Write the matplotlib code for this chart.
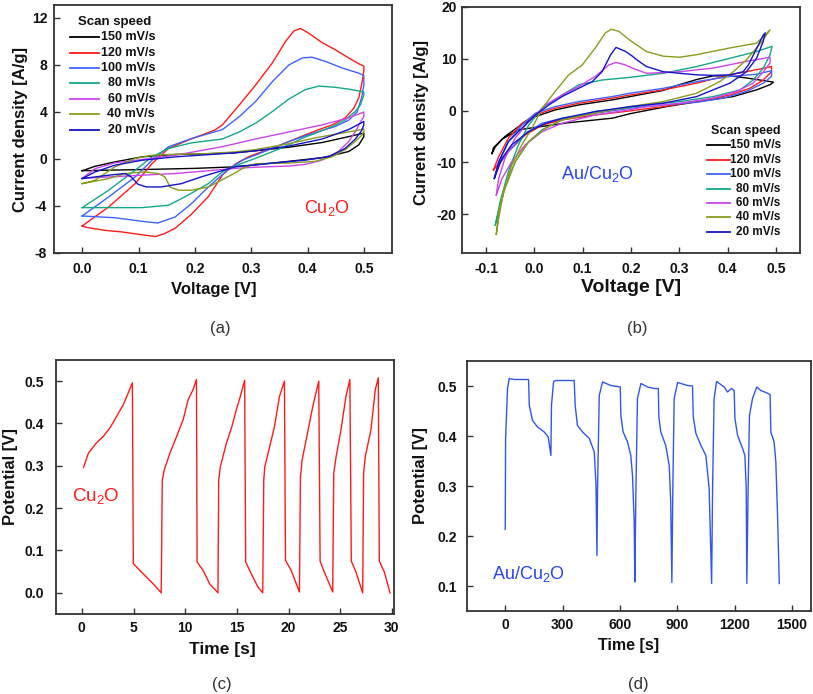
import matplotlib
matplotlib.use('Agg')
import matplotlib.pyplot as plt

plt.rcParams['font.family'] = ['Liberation Sans', 'DejaVu Sans']
plt.rcParams['axes.unicode_minus'] = False
plt.rcParams['mathtext.fontset'] = 'custom'
plt.rcParams['mathtext.rm'] = 'Liberation Sans'
plt.rcParams['mathtext.it'] = 'Liberation Sans:italic'
plt.rcParams['mathtext.bf'] = 'Liberation Sans:bold'

# ---------------- data ----------------
scan_labels = ['150 mV/s', '120 mV/s', '100 mV/s', '80 mV/s', '60 mV/s', '40 mV/s', '20 mV/s']
scan_colors = ['#000000', '#ff1a1a', '#3f62ff', '#14a88a', '#cc44ee', '#8a9c1c', '#1414cc']

# (a) Cu2O cyclic voltammetry
a_v_150 = [0, 0.023, 0.058, 0.106, 0.165, 0.265, 0.308, 0.367, 0.426, 0.473, 0.5, 0.5, 0.491, 0.473, 0.426, 0.367, 0.308, 0.265, 0.2, 0.106, 0.05, 0]
a_i_150 = [-1.0, -0.62, -0.25, 0.18, 0.38, 0.5, 0.7, 1.0, 1.4, 1.9, 2.2, 1.9, 1.2, 0.63, 0.11, -0.2, -0.5, -0.68, -0.8, -0.9, -0.95, -1.0]
a_v_120 = [0, 0.047, 0.094, 0.124, 0.153, 0.188, 0.235, 0.249, 0.279, 0.308, 0.338, 0.361, 0.376, 0.388, 0.402, 0.426, 0.449, 0.473, 0.491, 0.5,
           0.5, 0.496, 0.491, 0.482, 0.467, 0.444, 0.42, 0.396, 0.367, 0.338, 0.32, 0.296, 0.273, 0.25, 0.224, 0.194, 0.165, 0.146, 0.13, 0.105,
           0.069, 0.04, 0.011, 0]
a_i_120 = [-5.7, -4.08, -2.1, -0.39, 0.89, 1.6, 2.45, 2.9, 4.6, 6.3, 8.2, 10.0, 10.9, 11.1, 10.7, 9.9, 9.3, 8.6, 8.1, 7.9,
           7.5, 6.3, 5.2, 4.3, 3.5, 2.9, 2.5, 2.05, 1.48, 0.91, 0.63, 0.2, -0.4, -1.3, -3.2, -4.7, -5.9, -6.35, -6.6, -6.44,
           -6.2, -6.07, -5.85, -5.7]
a_v_100 = [0, 0.047, 0.094, 0.124, 0.153, 0.194, 0.249, 0.279, 0.308, 0.338, 0.367, 0.391, 0.408, 0.432, 0.461, 0.491, 0.5, 0.5, 0.496, 0.488,
           0.473, 0.449, 0.42, 0.391, 0.367, 0.338, 0.308, 0.285, 0.259, 0.224, 0.194, 0.165, 0.134, 0.106, 0.058, 0]
a_i_100 = [-4.85, -3.23, -1.53, -0.11, 1.03, 1.74, 2.5, 3.6, 4.9, 6.6, 8.0, 8.6, 8.66, 8.3, 7.75, 7.3, 7.1, 6.3, 5.2, 4.0,
           3.3, 2.76, 2.34, 1.9, 1.48, 0.91, 0.34, -0.09, -0.9, -2.38, -3.8, -4.94, -5.45, -5.3, -5.0, -4.85]
a_v_80 = [0, 0.047, 0.094, 0.124, 0.153, 0.194, 0.249, 0.279, 0.308, 0.338, 0.367, 0.396, 0.42, 0.449, 0.479, 0.5, 0.5, 0.494, 0.485, 0.467,
          0.444, 0.414, 0.391, 0.367, 0.338, 0.308, 0.279, 0.249, 0.224, 0.182, 0.153, 0.106, 0.047, 0]
a_i_80 = [-4.14, -2.66, -0.96, 0.18, 0.89, 1.37, 1.7, 2.3, 3.05, 4.05, 5.1, 5.9, 6.2, 6.1, 5.9, 5.7, 5.47, 4.6, 4.05, 3.33,
          2.76, 2.19, 1.77, 1.2, 0.63, 0.06, -0.45, -1.08, -2.1, -3.23, -3.94, -4.14, -4.14, -4.14]
a_v_60 = [0, 0.023, 0.058, 0.106, 0.165, 0.249, 0.308, 0.367, 0.426, 0.473, 0.5, 0.5, 0.496, 0.485, 0.473, 0.455, 0.426, 0.396, 0.367, 0.308,
          0.271, 0.224, 0.165, 0.106, 0.047, 0]
a_i_60 = [-1.65, -0.82, -0.33, -0.05, 0.32, 1.05, 1.7, 2.3, 2.9, 3.5, 3.99, 3.6, 3.3, 2.34, 1.48, 0.63, -0.09, -0.46, -0.6, -0.7,
          -0.8, -1.0, -1.24, -1.38, -1.53, -1.65]
a_v_40 = [0, 0.023, 0.058, 0.094, 0.124, 0.165, 0.224, 0.271, 0.308, 0.367, 0.414, 0.455, 0.485, 0.5, 0.5, 0.496, 0.485, 0.467, 0.444, 0.414,
          0.367, 0.308, 0.285, 0.271, 0.247, 0.224, 0.194, 0.171, 0.156, 0.147, 0.135, 0.111, 0.076, 0.047, 0]
a_i_40 = [-2.1, -1.81, -0.67, 0.04, 0.32, 0.4, 0.46, 0.6, 0.8, 1.3, 1.8, 2.15, 2.4, 2.56, 2.3, 2.0, 1.5, 0.8, 0.2, -0.2,
          -0.35, -0.4, -0.8, -1.2, -1.81, -2.38, -2.66, -2.66, -2.38, -1.53, -1.24, -1.1, -1.24, -1.67, -2.1]
a_v_20 = [0, 0.023, 0.058, 0.106, 0.165, 0.271, 0.308, 0.367, 0.426, 0.473, 0.5, 0.5, 0.496, 0.485, 0.467, 0.438, 0.396, 0.338, 0.271, 0.241,
          0.211, 0.176, 0.14, 0.114, 0.099, 0.087, 0.076, 0.047, 0]
a_i_20 = [-1.67, -1.1, -0.53, -0.11, 0.18, 0.52, 0.7, 1.1, 1.7, 2.5, 3.19, 2.9, 2.4, 1.7, 0.9, 0.2, -0.1, -0.35, -0.67, -1.1,
          -1.53, -2.1, -2.38, -2.38, -2.15, -1.53, -1.24, -1.38, -1.67]

# (b) Au/Cu2O cyclic voltammetry
b_v_150 = [-0.088, -0.081, -0.061, -0.033, 0.002, 0.043, 0.092, 0.161, 0.198, 0.267, 0.3, 0.336, 0.37, 0.405, 0.439, 0.474, 0.495, 0.488, 0.46, 0.411,
           0.336, 0.273, 0.198, 0.162, 0.065, -0.032, -0.067, -0.085, -0.088]
b_i_150 = [-8.3, -7.0, -5.0, -3.1, -1.16, 0.13, 1.1, 2.06, 2.7, 3.9, 5.0, 6.0, 6.7, 6.7, 6.3, 5.8, 5.5, 5.0, 4.0, 2.7,
           1.7, 0.76, -0.6, -1.46, -2.4, -3.7, -5.5, -7.2, -8.3]
b_v_120 = [-0.085, -0.074, -0.054, -0.026, 0.002, 0.043, 0.092, 0.161, 0.198, 0.267, 0.336, 0.405, 0.46, 0.491, 0.491, 0.474, 0.446, 0.405, 0.336, 0.267,
           0.198, 0.126, 0.057, 0.016, -0.019, -0.054, -0.074, -0.085]
b_i_120 = [-11.5, -8.9, -5.35, -2.45, -0.84, 0.45, 1.42, 2.4, 3.0, 4.0, 5.3, 6.9, 7.9, 8.5, 7.5, 5.9, 4.3, 3.0, 1.74, 0.77,
           -0.06, -0.84, -1.8, -2.8, -4.7, -7.9, -10.2, -11.5]
b_v_100 = [-0.083, -0.074, -0.054, -0.026, 0.002, 0.043, 0.092, 0.161, 0.198, 0.267, 0.336, 0.405, 0.46, 0.491, 0.491, 0.474, 0.439, 0.391, 0.336, 0.267,
           0.198, 0.126, 0.057, 0.016, -0.019, -0.054, -0.074, -0.083]
b_i_100 = [-13.1, -9.9, -6.0, -2.8, -0.5, 0.77, 1.74, 2.7, 3.35, 4.3, 5.6, 6.6, 7.0, 7.7, 6.6, 5.3, 3.7, 2.4, 1.6, 1.1,
           0.45, -0.5, -1.5, -2.45, -4.4, -7.9, -10.5, -13.1]
b_v_80 = [-0.081, -0.071, -0.054, -0.033, -0.012, 0.016, 0.057, 0.092, 0.14, 0.196, 0.267, 0.336, 0.405, 0.46, 0.492, 0.488, 0.474, 0.453, 0.426, 0.37,
          0.301, 0.232, 0.196, 0.126, 0.057, 0.016, -0.012, -0.04, -0.064, -0.081]
b_i_80 = [-22.1, -17.6, -11.8, -6.6, -2.8, 0.5, 3.0, 4.97, 5.9, 6.4, 7.2, 8.5, 10.1, 11.4, 12.4, 10.8, 8.2, 5.9, 4.0, 2.7,
          1.74, 1.1, 0.58, -0.19, -1.8, -3.7, -6.0, -9.9, -15.7, -22.1]
b_v_60 = [-0.079, -0.074, -0.061, -0.04, -0.012, 0.023, 0.057, 0.092, 0.126, 0.154, 0.169, 0.189, 0.203, 0.232, 0.301, 0.37, 0.439, 0.488, 0.488, 0.474,
          0.453, 0.419, 0.37, 0.301, 0.232, 0.196, 0.126, 0.057, 0.016, -0.019, -0.047, -0.067, -0.079]
b_i_60 = [-16.3, -13.1, -9.2, -5.35, -2.1, 1.1, 3.0, 4.65, 6.6, 8.8, 9.3, 8.8, 8.2, 7.2, 7.5, 8.2, 9.5, 10.3, 9.2, 7.5,
          5.3, 3.7, 2.4, 1.42, 0.77, 0.13, -0.84, -2.45, -4.06, -6.6, -9.9, -13.1, -16.3]
b_v_40 = [-0.079, -0.074, -0.064, -0.047, -0.026, -0.005, 0.016, 0.043, 0.071, 0.099, 0.126, 0.147, 0.159, 0.175, 0.196, 0.232, 0.267, 0.301, 0.336, 0.405,
          0.46, 0.488, 0.474, 0.46, 0.439, 0.412, 0.384, 0.336, 0.267, 0.198, 0.126, 0.057, 0.023, -0.012, -0.04, -0.061, -0.074, -0.079]
b_i_40 = [-23.9, -20.8, -15.7, -10.5, -6.6, -3.4, 0.45, 3.7, 6.9, 8.8, 12.1, 15.0, 15.7, 15.3, 13.7, 11.4, 10.5, 10.3, 10.8, 12.1,
          13.0, 15.6, 13.7, 12.1, 9.8, 7.5, 5.6, 3.35, 1.74, 0.77, -0.5, -1.8, -3.4, -6.0, -9.9, -15.0, -19.5, -23.9]
b_v_20 = [-0.083, -0.074, -0.054, -0.026, 0.002, 0.03, 0.057, 0.085, 0.12, 0.14, 0.158, 0.169, 0.189, 0.203, 0.212, 0.232, 0.267, 0.301, 0.336, 0.37,
          0.405, 0.432, 0.443, 0.457, 0.474, 0.478, 0.474, 0.46, 0.439, 0.405, 0.37, 0.336, 0.267, 0.198, 0.126, 0.057, 0.023, -0.012, -0.047, -0.067,
          -0.083]
b_i_20 = [-13.1, -9.9, -6.0, -3.4, -0.84, 1.1, 2.7, 4.0, 5.6, 7.5, 10.8, 12.2, 11.4, 10.5, 9.8, 8.5, 7.5, 7.2, 6.9, 6.8,
          6.9, 7.5, 8.8, 11.4, 14.6, 15.0, 13.4, 10.1, 7.5, 5.3, 4.0, 2.7, 1.42, 0.77, -0.19, -1.5, -2.45, -4.06, -6.6, -9.2,
          -13.1]

# (c) Cu2O galvanostatic charge-discharge
c_t = [0.16, 0.64, 1.44, 2.09, 2.73, 3.37, 4.02, 4.5, 4.89, 4.98, 5.94, 6.91, 7.68, 7.78, 7.97, 8.52, 9.16, 9.8, 10.28, 10.76,
       11.09, 11.15, 11.73, 12.37, 13.17, 13.24, 13.4, 13.98, 14.52, 14.94, 15.33, 15.75, 15.85, 16.39, 17.03, 17.5, 17.6, 17.7, 18.17, 18.64,
       19.12, 19.6, 19.7, 20.25, 21.05, 21.15, 21.31, 21.7, 22.34, 22.92, 23.05, 23.46, 24.27, 24.37, 24.6, 25.07, 25.55, 25.93, 26.07, 26.52,
       27.17, 27.26, 27.42, 27.97, 28.39, 28.68, 28.78, 29.27, 29.81]
c_v = [0.296, 0.33, 0.355, 0.37, 0.39, 0.417, 0.445, 0.473, 0.496, 0.069, 0.045, 0.021, 0.0, 0.266, 0.29, 0.33, 0.369, 0.409, 0.456, 0.48,
       0.504, 0.073, 0.053, 0.021, 0.0, 0.266, 0.298, 0.353, 0.393, 0.432, 0.464, 0.502, 0.073, 0.045, 0.014, 0.0, 0.266, 0.298, 0.345, 0.393,
       0.464, 0.5, 0.077, 0.053, 0.002, 0.274, 0.314, 0.361, 0.44, 0.5, 0.075, 0.049, 0.002, 0.282, 0.322, 0.385, 0.464, 0.504, 0.075, 0.049,
       0.0, 0.282, 0.322, 0.385, 0.48, 0.508, 0.075, 0.049, 0.0]

# (d) Au/Cu2O galvanostatic charge-discharge
d_t = [0, 2, 12, 21, 47, 117, 122, 126, 143, 169, 204, 225, 239, 242, 253, 265, 361, 366, 378, 405,
       440, 466, 475, 480, 483, 492, 509, 553, 602, 605, 617, 640, 657, 666, 675, 678, 684, 692, 710, 745,
       780, 801, 804, 814, 840, 858, 866, 872, 877, 884, 902, 954, 980, 984, 998, 1024, 1050, 1067, 1080, 1085,
       1093, 1106, 1146, 1163, 1184, 1198, 1202, 1216, 1242, 1254, 1261, 1264, 1271, 1278, 1294, 1316, 1337, 1364, 1386, 1390,
       1407, 1416, 1425, 1434]
d_v = [0.213, 0.395, 0.495, 0.515, 0.513, 0.513, 0.513, 0.461, 0.431, 0.418, 0.408, 0.398, 0.361, 0.461, 0.509, 0.511, 0.511, 0.461, 0.421, 0.408,
       0.395, 0.368, 0.301, 0.161, 0.295, 0.481, 0.508, 0.501, 0.498, 0.441, 0.408, 0.388, 0.361, 0.321, 0.228, 0.108, 0.295, 0.475, 0.505, 0.498,
       0.495, 0.495, 0.438, 0.408, 0.381, 0.341, 0.268, 0.107, 0.295, 0.475, 0.507, 0.501, 0.5, 0.438, 0.405, 0.381, 0.361, 0.295, 0.105, 0.295,
       0.475, 0.509, 0.498, 0.488, 0.495, 0.491, 0.435, 0.401, 0.375, 0.361, 0.295, 0.105, 0.295, 0.441, 0.475, 0.498, 0.491, 0.487, 0.483, 0.408,
       0.388, 0.348, 0.241, 0.105]

a_xticks = [0.0, 0.1, 0.2, 0.3, 0.4, 0.5]
a_yticks = [-8, -4, 0, 4, 8, 12]
b_xticks = [-0.1, 0.0, 0.1, 0.2, 0.3, 0.4, 0.5]
b_yticks = [-20, -10, 0, 10, 20]
c_xticks = [0, 5, 10, 15, 20, 25, 30]
c_yticks = [0.0, 0.1, 0.2, 0.3, 0.4, 0.5]
d_xticks = [0, 300, 600, 900, 1200, 1500]
d_yticks = [0.1, 0.2, 0.3, 0.4, 0.5]

a_series = [(a_v_150, a_i_150), (a_v_120, a_i_120), (a_v_100, a_i_100), (a_v_80, a_i_80),
            (a_v_60, a_i_60), (a_v_40, a_i_40), (a_v_20, a_i_20)]
b_series = [(b_v_150, b_i_150), (b_v_120, b_i_120), (b_v_100, b_i_100), (b_v_80, b_i_80),
            (b_v_60, b_i_60), (b_v_40, b_i_40), (b_v_20, b_i_20)]

# ---------------- figure ----------------
W, H = 813, 694
fig = plt.figure(figsize=(W / 100, H / 100), dpi=100)


def px_axes(l, t, r, b):
    return fig.add_axes([l / W, 1 - b / H, (r - l) / W, (b - t) / H])


axA = px_axes(54, 5, 392, 253)
axB = px_axes(462, 7, 800, 253)
axC = px_axes(56, 360, 394, 614)
axD = px_axes(467, 361, 811, 611)

SPINE = '#333333'


def style(ax, xt, yt, xfmt, yfmt, xpad, ypad):
    for s in ax.spines.values():
        s.set_color(SPINE)
        s.set_linewidth(1.3)
    ax.set_xticks(xt)
    ax.set_yticks(yt)
    ax.set_xticklabels([xfmt(v) for v in xt])
    ax.set_yticklabels([yfmt(v) for v in yt])
    ax.tick_params(direction='in', length=4, width=1, color=SPINE, labelsize=10,
                   top=False, right=False)
    ax.tick_params(axis='x', pad=xpad)
    ax.tick_params(axis='y', pad=ypad)
    for lab in ax.get_xticklabels() + ax.get_yticklabels():
        lab.set_fontweight('bold')
        lab.set_color('#111111')


def labels(ax, xl, xsize, xpos, yl, ysize, ypos):
    ax.set_xlabel(xl, fontsize=xsize, fontweight='bold', va='center', ha='center', color='#111111')
    ax.set_ylabel(yl, fontsize=ysize, fontweight='bold', va='center', ha='center', color='#111111')
    ax.xaxis.set_label_coords(*xpos)
    ax.yaxis.set_label_coords(*ypos)


def manual_legend(ax, title_xy, x0, x1, xtext, y0, dy, fs_title, fs_text):
    ax.text(title_xy[0], title_xy[1], 'Scan speed', transform=ax.transAxes, ha='center', va='center',
            fontsize=fs_title, fontweight='bold', color='#111111')
    for k, (lab, col) in enumerate(zip(scan_labels, scan_colors)):
        y = y0 - k * dy
        ax.plot([x0, x1], [y, y], color=col, lw=1.3, transform=ax.transAxes, clip_on=False)
        ax.text(xtext, y, lab, transform=ax.transAxes, ha='right', va='center',
                fontsize=fs_text, fontweight='bold', color='#111111')


# (a)
for (v, i), col in zip(a_series, scan_colors):
    axA.plot(v, i, color=col, lw=1.0)
axA.set_xlim(-0.05, 0.55)
axA.set_ylim(-8, 13.1)
style(axA, a_xticks, a_yticks, lambda v: f'{v:.1f}', lambda v: f'{v:d}', 6.5, 5)
labels(axA, 'Voltage [V]', 12, (0.473, -0.149), 'Current density [A/g]', 12, (-0.10, 0.5))
manual_legend(axA, (0.178, 0.931), 0.047, 0.133, 0.299, 0.870, 0.0621, 9.5, 9)
axA.text(0.808, 0.181, 'Cu$_\\mathregular{2}$O', transform=axA.transAxes, color='#ff1a1a',
         fontsize=13, ha='center', va='center')

# (b)
for (v, i), col in zip(b_series, scan_colors):
    axB.plot(v, i, color=col, lw=1.0)
axB.set_xlim(-0.15, 0.55)
axB.set_ylim(-27.5, 20)
style(axB, b_xticks, b_yticks, lambda v: f'{v:.1f}', lambda v: f'{v:d}', 6.5, 4)
labels(axB, 'Voltage [V]', 14, (0.499, -0.140), 'Current density [A/g]', 12, (-0.12, 0.532))
manual_legend(axB, (0.839, 0.4965), 0.724, 0.793, 0.943, 0.437, 0.0583, 9, 8.5)
axB.text(0.402, 0.320, 'Au/Cu$_\\mathregular{2}$O', transform=axB.transAxes, color='#2a44f0',
         fontsize=13, ha='center', va='center')

# (c)
axC.plot(c_t, c_v, color='#ff1a1a', lw=1.0)
axC.set_xlim(-2.5, 30.2)
axC.set_ylim(-0.05, 0.55)
style(axC, c_xticks, c_yticks, lambda v: f'{v:d}', lambda v: f'{v:.1f}', 5, 8.5)
labels(axC, 'Time [s]', 12.5, (0.491, -0.138), 'Potential [V]', 12, (-0.135, 0.543))
axC.text(0.119, 0.465, 'Cu$_\\mathregular{2}$O', transform=axC.transAxes, color='#ff1a1a',
         fontsize=13.5, ha='center', va='center')

# (d)
axD.plot(d_t, d_v, color='#3355ee', lw=1.0)
axD.set_xlim(-200, 1600)
axD.set_ylim(0.05, 0.55)
style(axD, d_xticks, d_yticks, lambda v: f'{v:d}', lambda v: f'{v:.1f}', 5, 7)
labels(axD, 'Time [s]', 11.5, (0.469, -0.137), 'Potential [V]', 12, (-0.136, 0.543))
axD.text(0.178, 0.147, 'Au/Cu$_\\mathregular{2}$O', transform=axD.transAxes, color='#2a44f0',
         fontsize=13, ha='center', va='center')

# captions
for txt, x, y in [('(a)', 220, 328), ('(b)', 637, 328), ('(c)', 222, 684), ('(d)', 638, 684)]:
    fig.text(x / W, 1 - y / H, txt, ha='center', va='center', fontsize=12, color='#333333')

fig.savefig('out.png', dpi=100)
